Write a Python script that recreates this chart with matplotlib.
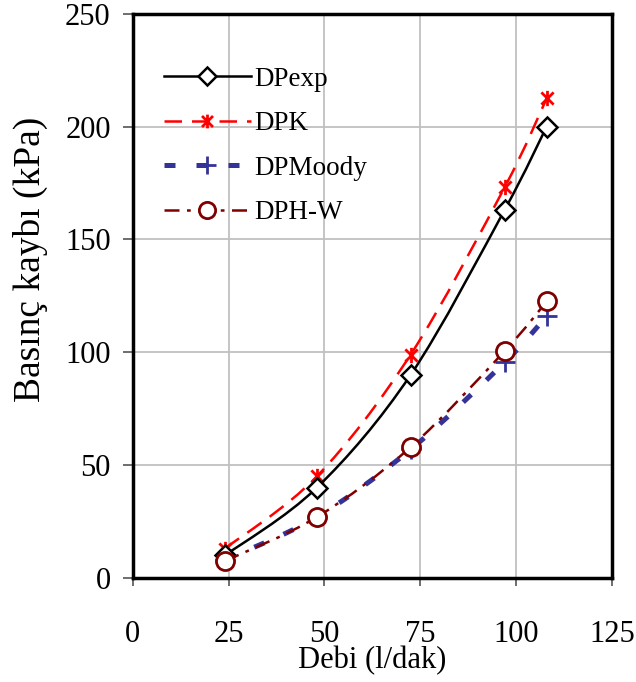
import numpy as np
import matplotlib
matplotlib.use("Agg")
import matplotlib.pyplot as plt
from matplotlib.path import Path
from matplotlib.patches import PathPatch
from matplotlib.lines import Line2D

plt.rcParams['font.family'] = ['Liberation Serif', 'DejaVu Serif']

# ---- data ----
debi = [24, 48, 72.5, 97, 108]
dp_exp = [10, 40, 90, 163, 200]
dp_k = [13, 45, 99, 173, 212.5]
dp_moody = [8, 27, 57, 95.5, 116]
dp_hw = [7.5, 27, 58, 100.5, 122.5]

x_ticks = [0, 25, 50, 75, 100, 125]
y_ticks = [0, 50, 100, 150, 200, 250]

fig = plt.figure(figsize=(6.36, 6.82), dpi=100)
ax = fig.add_axes([0.209, 0.1525, 0.753, 0.8275])


def smooth_path(xs, ys):
    """Excel-like smoothed line as cubic Bezier path through the points."""
    pts = np.column_stack([xs, ys]).astype(float)
    n = len(pts)
    verts = [pts[0]]
    codes = [Path.MOVETO]
    for i in range(n - 1):
        p0 = pts[i - 1] if i > 0 else pts[i]
        p1 = pts[i]
        p2 = pts[i + 1]
        p3 = pts[i + 2] if i + 2 < n else pts[i + 1]
        c1 = p1 + (p2 - p0) / 6.0
        c2 = p2 - (p3 - p1) / 6.0
        verts += [c1, c2, p2]
        codes += [Path.CURVE4] * 3
    return Path(verts, codes)


star = Path([(-1, -1), (1, 1), (-1, 1), (1, -1), (0, -1.25), (0, 1.25)],
            [Path.MOVETO, Path.LINETO, Path.MOVETO, Path.LINETO, Path.MOVETO, Path.LINETO])

series = [
    dict(y=dp_exp, label='DPexp', color='black', ls='-', lw=1.8,
         marker='D', ms=10, mfc='white', mew=1.8, z=5),
    dict(y=dp_k, label='DPK', color='#ff0000', ls=(0, (7, 4)), lw=1.8,
         marker=star, ms=11, mfc='#ff0000', mew=2.0, z=4),
    dict(y=dp_moody, label='DPMoody', color='#333399', ls=(0, (2.2, 4.2)), lw=3.6,
         marker='+', ms=14, mfc='#333399', mew=2.0, z=3),
    dict(y=dp_hw, label='DPH-W', color='#800000', ls=(0, (6, 3, 1.5, 3)), lw=1.8,
         marker='o', ms=13, mfc='white', mew=2.0, z=6),
]

handles = []
for s in series:
    patch = PathPatch(smooth_path(debi, s['y']), fill=False, edgecolor=s['color'],
                      linestyle=s['ls'], linewidth=s['lw'], zorder=s['z'],
                      capstyle='butt')
    ax.add_patch(patch)
    ax.plot(debi, s['y'], linestyle='none', marker=s['marker'], markersize=s['ms'],
            markerfacecolor=s['mfc'], markeredgecolor=s['color'],
            markeredgewidth=s['mew'], zorder=s['z'] + 0.5)
    handles.append(Line2D([], [], color=s['color'], linestyle=s['ls'], linewidth=s['lw'],
                          marker=s['marker'], markersize=s['ms'] * 0.9,
                          markerfacecolor=s['mfc'], markeredgecolor=s['color'],
                          markeredgewidth=s['mew'], dash_capstyle='butt'))

ax.set_xlim(0, 125)
ax.set_ylim(0, 250)
ax.set_xticks(x_ticks)
ax.set_yticks(y_ticks)
ax.set_xticklabels([str(v) for v in x_ticks])
ax.set_yticklabels([str(v) for v in y_ticks])
ax.grid(True, color='#c0c0c0', linewidth=1.3)
ax.set_axisbelow(True)
for sp in ax.spines.values():
    sp.set_linewidth(2.5)
    sp.set_color('black')
ax.tick_params(axis='x', direction='out', length=6, width=1.2, color='#555555',
               labelsize=22, pad=24)
ax.tick_params(axis='y', direction='out', length=7, width=1.2, color='#555555',
               labelsize=22, pad=9)

ax.set_xlabel('Debi (l/dak)', fontsize=22, labelpad=-2)
ax.set_ylabel('Basınç kaybı (kPa)', fontsize=27, va='center')
ax.yaxis.set_label_coords(-0.215, 0.564)

leg = ax.legend(handles, [s['label'] for s in series], loc='upper left',
                bbox_to_anchor=(0.042, 0.925), frameon=False, fontsize=19.5,
                handlelength=3.2, handletextpad=0.12, labelspacing=0.72,
                borderaxespad=0)

fig.savefig('out.png', dpi=100)
